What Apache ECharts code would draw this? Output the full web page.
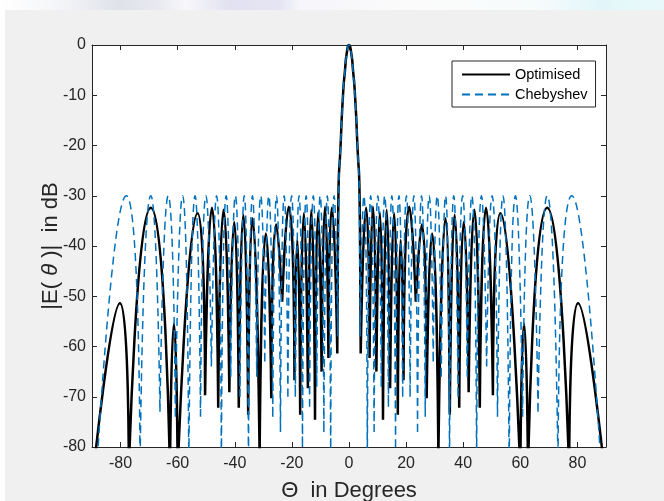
<!DOCTYPE html>
<html>
<head>
<meta charset="utf-8">
<script src="https://cdn.jsdelivr.net/npm/echarts@6/dist/echarts.min.js"></script>
<style>
  html, body { margin: 0; padding: 0; width: 664px; height: 501px; overflow: hidden; background: #ffffff; }
  #strip { position: absolute; left: 0; top: 0; width: 664px; height: 10px;
    background: linear-gradient(90deg, #ffffff 0px, #f4f5f8 60px, #dfe2ea 120px, #e9eaf0 160px, #f7f7fa 185px, #e2e1f1 230px, #e6e5f3 280px, #f6f6fb 300px, #fbfbfb 420px, #f6fbfc 540px, #e2f6f9 600px, #e9f9fb 664px); }
  #bg { position: absolute; left: 5px; top: 10px; width: 659px; height: 491px; background: #f0f0f0; }
  #chart { position: absolute; left: 0; top: 0; width: 664px; height: 501px; }
</style>
</head>
<body>
<div id="strip"></div>
<div id="bg"></div>
<div id="chart"></div>
<script>
// ---- tick labels ----
const xTickValues = [-80, -60, -40, -20, 0, 20, 40, 60, 80];
const yTickValues = [0, -10, -20, -30, -40, -50, -60, -70, -80];

// ---- Optimised pattern: side-lobe nulls and peaks ----
const optLeftNullX  = [-89.5, -77.1, -62.7, -60.0, -50.4, -45.8, -41.9, -38.6, -35.3, -31.3, -27.2, -23.4, -19.1, -17.1, -14.4, -11.9, -9.6, -7.2, -4.1];
const optLeftNullY  = [-85, -85, -85, -85, -69.7, -72.2, -69.1, -72.2, -73.6, -82, -70.3, -51.1, -66.7, -73.6, -68.3, -74.6, -65, -62.3, -61.4];
const optLeftPeakX  = [-80.2, -69.4, -61.3, -53.0, -48.0, -43.9, -40.2, -37.0, -33.8, -29.1, -25.5, -21.1, -18.1, -15.8, -13.2, -10.8, -8.4, -6.0];
const optLeftPeakY  = [-51.4, -32.4, -55.4, -33.5, -32.4, -32.8, -35.2, -33.8, -34.5, -37.5, -35.7, -32.2, -38.8, -33.5, -32.8, -33.3, -32.2, -32.4];
const optRightNullX = [4.1, 7.2, 9.6, 11.9, 14.4, 17.1, 19.1, 23.4, 27.2, 31.3, 35.3, 38.6, 41.9, 45.8, 50.4, 60.0, 62.7, 77.1, 89.5];
const optRightNullY = [-61.4, -62.3, -65, -74.6, -68.3, -73.6, -66.7, -51.1, -70.3, -82, -73.6, -72.2, -69.1, -72.2, -69.7, -85, -85, -85, -85];
const optRightPeakX = [6.0, 8.4, 10.8, 13.2, 15.8, 18.1, 21.1, 25.5, 29.1, 33.8, 37.0, 40.2, 43.9, 48.0, 53.0, 61.3, 69.4, 80.2];
const optRightPeakY = [-32.4, -32.2, -33.3, -32.8, -33.5, -38.8, -32.2, -35.7, -37.5, -34.5, -33.8, -35.2, -32.8, -32.4, -33.5, -55.4, -32.4, -51.4];
const optMainX = [-4.1, -3.9, -3.7, -2.95, -2.1, -1.4, -0.7, 0, 0.7, 1.4, 2.1, 2.95, 3.7, 3.9, 4.1];
const optMainY = [-61.4, -42, -30, -20, -10, -5, -1.3, 0, -1.3, -5, -10, -20, -30, -42, -61.4];

// ---- Chebyshev pattern ----
const chebLeftNullX  = [-88.4, -73.2, -66.2, -60.8, -56.1, -52.0, -48.2, -44.7, -41.4, -38.2, -35.2, -32.3, -29.5, -26.7, -24.0, -21.4, -18.8, -16.3, -13.8, -11.3, -8.8, -6.4, -3.9];
const chebLeftNullY  = [-85, -85, -73, -74, -85, -74, -64, -85, -66, -70, -85, -66, -63, -74, -77, -70, -70, -80, -72, -68, -77, -85, -58];
const chebLeftPeakX  = [-78.0, -69.4, -63.3, -58.3, -53.9, -50.1, -46.4, -43.0, -39.8, -36.7, -33.8, -30.9, -28.1, -25.4, -22.7, -20.1, -17.5, -15.0, -12.5, -10.1, -7.6, -5.2];
const chebLeftPeakY  = [-30, -30, -30, -30, -30, -30, -30, -30, -30, -30, -30, -30, -30, -30, -30, -30, -30, -30, -30, -30, -30, -30];
const chebRightNullX = [3.9, 6.4, 8.8, 11.3, 13.8, 16.3, 18.8, 21.4, 24.0, 26.7, 29.5, 32.3, 35.2, 38.2, 41.4, 44.7, 48.2, 52.0, 56.1, 60.8, 66.2, 73.2, 88.4];
const chebRightNullY = [-58, -85, -77, -68, -72, -80, -70, -70, -77, -74, -63, -66, -85, -70, -66, -85, -64, -74, -85, -74, -73, -85, -85];
const chebRightPeakX = [5.2, 7.6, 10.1, 12.5, 15.0, 17.5, 20.1, 22.7, 25.4, 28.1, 30.9, 33.8, 36.7, 39.8, 43.0, 46.4, 50.1, 53.9, 58.3, 63.3, 69.4, 78.0];
const chebRightPeakY = [-30, -30, -30, -30, -30, -30, -30, -30, -30, -30, -30, -30, -30, -30, -30, -30, -30, -30, -30, -30, -30, -30];
const chebMainX = [-3.9, -3.75, -3.6, -2.95, -2.1, -1.4, -0.7, 0, 0.7, 1.4, 2.1, 2.95, 3.6, 3.75, 3.9];
const chebMainY = [-58, -40, -30, -20, -10, -5, -1.3, 0, -1.3, -5, -10, -20, -30, -40, -58];

// Build line data: each lobe is its own smooth segment, separated by gaps
function lobes(nx, ny, px, py) {
  const out = [];
  for (let i = 0; i < px.length; i++) {
    out.push([nx[i], ny[i]], [px[i], py[i]], [nx[i + 1], ny[i + 1]]);
    out.push([nx[i + 1], '-']);
  }
  return out;
}
function segment(xs, ys) {
  const out = xs.map((x, i) => [x, ys[i]]);
  out.push([xs[xs.length - 1], '-']);
  return out;
}
const optData = [].concat(
  lobes(optLeftNullX, optLeftNullY, optLeftPeakX, optLeftPeakY),
  segment(optMainX, optMainY),
  lobes(optRightNullX, optRightNullY, optRightPeakX, optRightPeakY)
);
const chebData = [].concat(
  lobes(chebLeftNullX, chebLeftNullY, chebLeftPeakX, chebLeftPeakY),
  segment(chebMainX, chebMainY),
  lobes(chebRightNullX, chebRightNullY, chebRightPeakX, chebRightPeakY)
);

const FONT = '"Liberation Sans", Arial, Helvetica, sans-serif';
const AX = '#262626';
const axisCommon = {
  axisLine: { show: true, onZero: false, lineStyle: { color: AX, width: 1 } },
  splitLine: { show: false }
};

const chart = echarts.init(document.getElementById('chart'), null, { renderer: 'canvas' });
chart.setOption({
  animation: false,
  backgroundColor: 'transparent',
  grid: { left: 92, right: 58, top: 45, bottom: 54, containLabel: false, outerBoundsMode: 'none',
          show: true, backgroundColor: '#ffffff', borderWidth: 0 },
  legend: {
    data: ['Optimised', 'Chebyshev'],
    orient: 'vertical',
    left: 452, top: 61,
    itemWidth: 48, itemHeight: 14, itemGap: 5,
    padding: [6, 8, 5, 9],
    backgroundColor: '#ffffff',
    borderColor: AX, borderWidth: 1, borderRadius: 0,
    itemStyle: { opacity: 0, borderWidth: 0 },
    textStyle: { fontSize: 14.5, color: '#000', fontFamily: FONT }
  },
  xAxis: [
    Object.assign({}, axisCommon, {
      type: 'value', min: -90, max: 90, position: 'bottom',
      axisTick: { show: true, inside: true, length: 5, customValues: xTickValues, lineStyle: { color: AX } },
      axisLabel: { customValues: xTickValues, color: AX, fontSize: 16, fontFamily: FONT, margin: 9 },
      name: 'Θ  in Degrees', nameLocation: 'middle', nameGap: 33,
      nameTextStyle: { fontSize: 22, color: AX, fontFamily: FONT }
    }),
    Object.assign({}, axisCommon, {
      type: 'value', min: -90, max: 90, position: 'top',
      axisTick: { show: true, inside: true, length: 5, customValues: xTickValues, lineStyle: { color: AX } },
      axisLabel: { show: false }
    })
  ],
  yAxis: [
    Object.assign({}, axisCommon, {
      type: 'value', min: -80, max: 0, interval: 10, position: 'left',
      axisTick: { show: true, inside: true, length: 5, lineStyle: { color: AX } },
      axisLabel: { color: AX, fontSize: 16, fontFamily: FONT, margin: 6 },
      name: '|E( {i|θ} )|  in dB', nameLocation: 'middle', nameGap: 30, nameMoveOverlap: false,
      nameTextStyle: { fontSize: 22, color: AX, fontFamily: FONT, verticalAlign: 'bottom',
        rich: { i: { fontSize: 22, fontStyle: 'italic', color: AX, fontFamily: FONT } } }
    }),
    Object.assign({}, axisCommon, {
      type: 'value', min: -80, max: 0, interval: 10, position: 'right',
      axisTick: { show: true, inside: true, length: 5, lineStyle: { color: AX } },
      axisLabel: { show: false }
    })
  ],
  series: [
    {
      name: 'Optimised', type: 'line', xAxisIndex: 0, yAxisIndex: 0,
      data: optData, smooth: 0.7, symbol: 'none', showSymbol: false, connectNulls: false,
      lineStyle: { color: '#000000', width: 2.5 }, itemStyle: { color: '#000000' }, clip: true
    },
    {
      name: 'Chebyshev', type: 'line', xAxisIndex: 0, yAxisIndex: 0,
      data: chebData, smooth: 0.7, symbol: 'none', showSymbol: false, connectNulls: false,
      lineStyle: { color: '#0072BD', width: 1.5, type: [8, 5] }, itemStyle: { color: '#0072BD' }, clip: true
    }
  ]
});
</script>
</body>
</html>
